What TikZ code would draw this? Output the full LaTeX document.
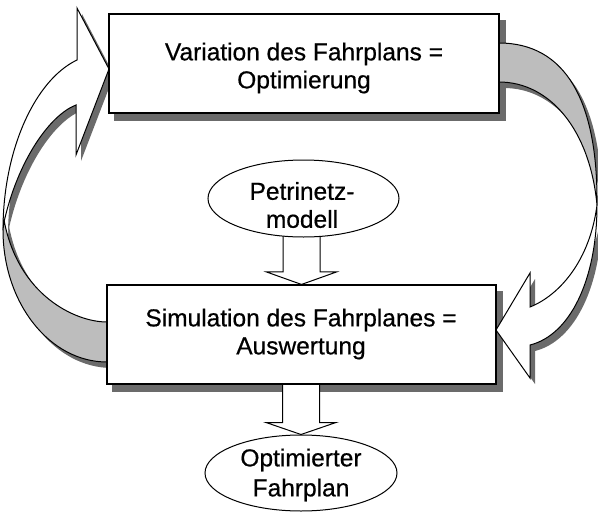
\documentclass[tikz,border=0pt]{standalone}
\usepackage{fontspec}
\setmainfont{Liberation Sans}
\newfontfamily\lblfont{Liberation Sans}[FakeBold=0.6]
\usetikzlibrary{shapes.geometric,calc}
\pgfdeclarelayer{shade}
\pgfdeclarelayer{ribbon}
\pgfsetlayers{shade,ribbon,main}
\definecolor{shadowgray}{gray}{0.42}
\definecolor{backgray}{gray}{0.74}
\begin{document}
\begin{tikzpicture}[x=1pt,y=-1pt,line width=1.1pt,
  panel/.style={draw,fill=white,rectangle,inner sep=0pt,minimum height=99pt,line width=1.1pt},
  oval/.style={draw,fill=white,ellipse,inner sep=0pt,line width=1pt},
  lbl/.style={align=center,inner sep=0pt,font=\lblfont\fontsize{24.5}{28}\selectfont},
  blockarrow/.style={draw,fill=white,line join=miter,line width=1pt},
  ribbonfront/.style={draw,fill=white,line join=miter,line width=1pt},
  ribbonback/.style={draw,fill=backgray,line join=miter,line width=1pt},
  dropshadow/.style={fill=shadowgray,draw=none}]
\useasboundingbox (0,0) rectangle (598,512);

% boxes and ovals
\node[panel,minimum width=390pt] (var) at (304,63.5) {};
\node[panel,minimum width=389pt] (sim) at (301.5,334.5) {};
\node[oval,minimum width=191pt,minimum height=77pt] (petri) at (303.5,198.5) {};
\node[oval,minimum width=192pt,minimum height=76pt] (opt) at (301,473) {};

% texts
\node[lbl] (varlbl) at (304,68) {Variation des Fahrplans =\\Optimierung};
\node[lbl] (simlbl) at (301,334) {Simulation des Fahrplanes =\\Auswertung};
\node[lbl] (petrilbl) at (302,205) {Petrinetz-\\modell};
\node[lbl,font=\lblfont\fontsize{24.5}{30}\selectfont] (optlbl) at (301,475) {Optimierter\\Fahrplan};

% curved ribbons: front face carries the head, back face shows at the tail
\def\lfront{(77,60) .. controls (35,80) and (3,150) .. (3,230) -- (4,222)
  .. controls (18,160) and (50,115) .. (76,105) -- (76,155) -- (109,69) -- (77,8) -- cycle}
\def\lback{(107,362) .. controls (49.6,362) and (3,303) .. (3,230) -- (4,220)
  .. controls (18,295) and (75,322) .. (107,322) -- cycle}
\def\rback{(499,43) .. controls (565,43) and (598,100) .. (597,205)
  .. controls (590,130) and (550,82) .. (499,82) -- cycle}
\def\rfront{(597,205) .. controls (597,280) and (570,335) .. (530,345) -- (530,378)
  -- (496,330) -- (530,273) -- (530,307) .. controls (560,295) and (590,260) .. (597,205) -- cycle}

% straight block arrows
\coordinate (a1tip) at (sim.north);
\coordinate (a1top) at ($(a1tip |- petri.south)+(0,-8)$);
\coordinate (a2tip) at (opt.north);
\coordinate (a2top) at ($(a2tip |- sim.south)+(0,-8)$);

\begin{pgfonlayer}{shade}
  \fill[shadowgray] ($(var.south west)+(6,7)$) rectangle ($(var.north east)+(6,7)$);
  \fill[shadowgray] ($(sim.south west)+(6,7)$) rectangle ($(sim.north east)+(6,7)$);
  \begin{scope}[shift={(5,6)}]
    \fill[dropshadow] \lfront;
    \fill[dropshadow] \lback;
    \fill[dropshadow] \rfront;
    \fill[dropshadow] \rback;
  \end{scope}
\end{pgfonlayer}

\begin{pgfonlayer}{ribbon}
  \path[ribbonfront] \lfront;
  \path[ribbonback] \lback;
  \path[ribbonback] \rback;
  \path[ribbonfront] \rfront;
  \path[blockarrow] ($(a1top)+(-18.5,0)$) -- ($(a1tip)+(-18.5,-12.5)$) -- ($(a1tip)+(-35,-12.5)$)
    -- (a1tip) -- ($(a1tip)+(35,-12.5)$) -- ($(a1tip)+(18.5,-12.5)$) -- ($(a1top)+(18.5,0)$);
  \path[blockarrow] ($(a2top)+(-18.5,0)$) -- ($(a2tip)+(-18.5,-12)$) -- ($(a2tip)+(-35,-12)$)
    -- (a2tip) -- ($(a2tip)+(35,-12)$) -- ($(a2tip)+(18.5,-12)$) -- ($(a2top)+(18.5,0)$);
\end{pgfonlayer}
\end{tikzpicture}
\end{document}
